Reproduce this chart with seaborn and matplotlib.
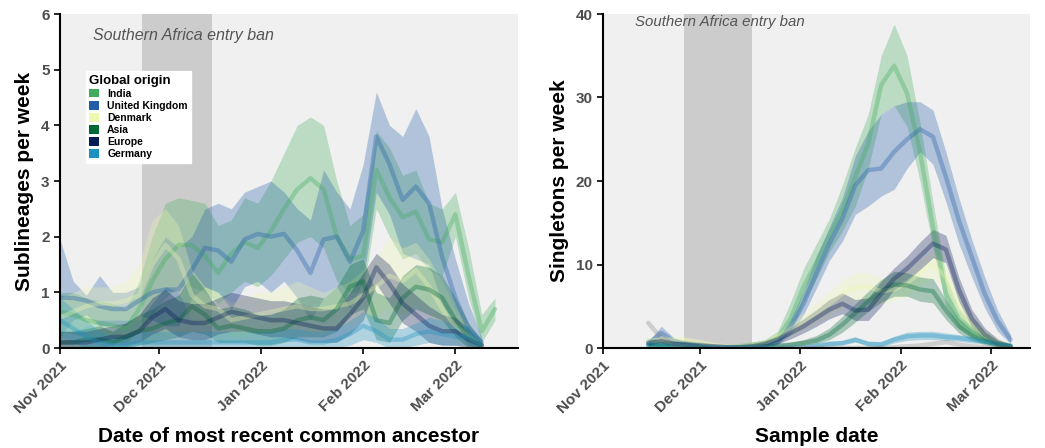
import numpy as np
import pandas as pd
import matplotlib
matplotlib.use("Agg")
import matplotlib.pyplot as plt
import matplotlib.dates as mdates
from matplotlib.patches import Patch
import seaborn as sns

nan = np.nan
origins = ["India", "United Kingdom", "Denmark", "Asia", "Europe", "Germany"]
colors = ["#41ab5d", "#225ea8", "#edf8b1", "#006837", "#081d58", "#1d91c0"]

# ---- Left panel: sublineages per week (dates every 4 days from 2021-11-01)
left_start, left_n = "2021-11-01", 34
india_l = [0.65,0.6,0.5,0.45,0.4,0.35,0.7,1.2,1.6,1.85,1.85,1.65,1.35,1.7,1.9,1.8,2.1,2.5,2.85,3.05,2.85,2.0,1.6,1.65,3.2,2.7,2.35,2.45,1.95,1.9,2.4,1.3,0.3,0.7]
india_l_hi = [1.0,1.0,0.9,0.85,0.8,0.7,1.2,2.0,2.6,2.7,2.65,2.6,2.2,2.3,2.7,2.6,3.0,3.5,4.0,4.15,4.0,3.0,2.2,2.4,3.9,3.6,3.1,3.2,2.6,2.5,2.8,1.8,0.6,0.9]
india_l_lo = [0.3,0.25,0.2,0.15,0.1,0.1,0.3,0.6,0.9,1.1,1.1,1.0,0.8,1.0,1.2,1.1,1.3,1.6,1.9,2.0,1.8,1.2,1.0,1.0,2.5,2.0,1.6,1.7,1.4,1.3,2.0,0.9,0.1,0.5]
uk_l = [0.9,0.9,0.85,0.75,0.7,0.7,0.85,1.0,1.05,1.05,1.4,1.8,1.75,1.55,1.95,2.05,2.0,2.05,1.75,1.35,1.95,2.0,1.55,2.1,3.8,3.3,2.66,2.9,2.6,1.63,0.9,0.35,0.1,nan]
uk_l_hi = [1.95,1.2,0.95,1.3,1.0,1.0,1.1,1.6,2.0,1.8,2.0,2.5,2.6,2.5,2.8,2.9,3.0,2.8,2.5,2.3,3.2,2.8,2.5,3.3,4.6,4.0,3.8,4.3,3.8,2.5,1.6,0.8,0.2,nan]
uk_l_lo = [0.2,0.5,0.6,0.4,0.4,0.4,0.6,0.5,0.4,0.4,0.9,1.1,1.0,0.7,1.1,1.2,1.0,1.2,0.9,0.5,0.9,1.1,0.7,1.2,2.8,2.4,1.7,1.6,1.5,0.8,0.3,0.05,0.0,nan]
denmark_l = [0.55,0.65,0.75,0.8,0.8,0.85,0.95,1.5,1.85,1.6,0.95,0.75,0.7,0.5,0.55,0.6,0.65,0.7,0.75,0.7,0.7,0.75,0.8,0.95,1.1,1.3,1.2,1.4,1.1,0.7,0.4,0.2,0.05,nan]
denmark_l_hi = [0.9,1.0,1.1,1.1,1.1,1.2,1.5,2.3,2.5,2.2,1.4,1.1,1.0,0.8,0.9,1.0,1.0,1.1,1.2,1.1,1.0,1.1,1.2,1.4,1.6,2.0,1.8,1.9,1.6,1.2,0.7,0.4,0.1,nan]
denmark_l_lo = [0.2,0.3,0.4,0.5,0.5,0.5,0.5,0.8,1.1,1.0,0.5,0.4,0.4,0.2,0.2,0.3,0.3,0.3,0.4,0.3,0.3,0.4,0.4,0.5,0.6,0.7,0.6,0.8,0.6,0.3,0.1,0.0,0.0,nan]
asia_l = [0.1,0.1,0.15,0.15,0.1,0.2,0.3,0.35,0.45,0.5,0.75,0.6,0.35,0.4,0.35,0.3,0.3,0.35,0.5,0.55,0.5,0.7,1.1,1.2,0.5,0.45,0.9,1.1,1.05,0.9,0.5,0.2,0.05,nan]
asia_l_hi = [0.3,0.3,0.35,0.4,0.3,0.45,0.6,0.7,0.85,0.95,1.35,1.05,0.7,0.75,0.7,0.6,0.6,0.7,0.9,0.95,0.9,1.1,1.5,1.6,1.0,0.9,1.3,1.5,1.45,1.3,0.9,0.45,0.15,nan]
asia_l_lo = [0,0,0,0,0,0,0.05,0.1,0.15,0.2,0.3,0.25,0.1,0.1,0.1,0.05,0.05,0.1,0.2,0.2,0.2,0.3,0.6,0.7,0.15,0.1,0.5,0.7,0.6,0.5,0.2,0.0,0.0,nan]
europe_l = [0.1,0.1,0.1,0.15,0.2,0.2,0.3,0.55,0.7,0.5,0.45,0.45,0.55,0.65,0.6,0.55,0.5,0.5,0.45,0.4,0.35,0.35,0.6,0.9,1.45,1.15,0.8,0.6,0.4,0.3,0.3,0.15,0.05,nan]
europe_l_hi = [0.3,0.3,0.3,0.35,0.4,0.45,0.6,0.9,1.05,0.85,0.8,0.8,0.9,1.0,0.95,0.9,0.85,0.85,0.8,0.75,0.7,0.7,1.0,1.35,1.7,1.5,1.15,0.95,0.75,0.6,0.55,0.35,0.1,nan]
europe_l_lo = [0,0,0,0,0.05,0.05,0.1,0.25,0.35,0.2,0.15,0.15,0.25,0.3,0.3,0.25,0.2,0.2,0.15,0.1,0.1,0.1,0.25,0.5,1.15,0.8,0.45,0.3,0.1,0.05,0.05,0,0,nan]
germany_l = [0.5,0.35,0.2,0.1,0.05,0.05,0.1,0.1,0.1,0.1,0.1,0.1,0.1,0.1,0.1,0.1,0.1,0.15,0.15,0.1,0.1,0.15,0.25,0.4,0.3,0.15,0.15,0.25,0.3,0.25,0.2,0.2,0.05,nan]
germany_l_hi = [0.9,0.7,0.5,0.3,0.2,0.2,0.3,0.3,0.3,0.3,0.3,0.3,0.3,0.3,0.3,0.3,0.3,0.35,0.35,0.3,0.3,0.35,0.5,0.65,0.55,0.35,0.35,0.45,0.55,0.5,0.4,0.4,0.15,nan]
germany_l_lo = [0.2,0.1,0,0,0,0,0,0,0,0,0,0,0,0,0,0,0,0,0,0,0,0,0.05,0.15,0.1,0,0,0.05,0.1,0.05,0.05,0.05,0,nan]

# ---- Right panel: singletons per week (dates every 4 days from 2021-11-15)
right_start, right_n = "2021-11-15", 29
india_r = [0.8,0.6,0.6,0.5,0.3,0.1,0.1,0.2,0.4,0.6,1.2,3.5,7.3,10.3,13.5,16.5,20.5,24.5,31.5,33.8,30.5,23.5,14.5,6.5,3.5,2.2,1.3,0.6,0.3]
india_r_hi = [1.2,1.0,0.9,0.8,0.5,0.2,0.2,0.4,0.7,1.0,2.0,5.5,9.5,12.5,15.5,19.5,24,28,35,38.8,35,27,17.5,8.5,4.8,3.0,1.9,1.0,0.5]
india_r_lo = [0.4,0.3,0.3,0.2,0.1,0,0,0.1,0.2,0.3,0.6,2.0,5.5,8.3,11.5,14,17,21.5,28,29,26.5,20,12,5,2.4,1.4,0.8,0.3,0.1]
uk_r = [0.5,1.8,0.8,0.5,0.4,0.2,0.1,0.1,0.2,0.3,0.7,2.5,5.3,9.0,12.5,15.5,19.5,21.3,21.5,23.5,25,26.2,25.3,20.5,15.3,10.9,6.5,3.2,1.0]
uk_r_hi = [0.8,2.6,1.2,0.8,0.6,0.3,0.2,0.2,0.3,0.5,1.0,3.5,6.8,11,14.5,18,23,26,28,29,29.5,29.5,28.5,23.5,18,13,8.5,4.5,1.6]
uk_r_lo = [0.2,1.0,0.4,0.3,0.2,0.1,0,0,0.1,0.1,0.4,1.6,4,7.2,10.5,12.8,16,17,18.2,19,21.5,23.5,22,17.5,12.5,8.5,4.8,2.0,0.5]
denmark_r = [0.8,1.0,1.0,0.9,0.7,0.4,0.2,0.2,0.3,0.6,1.3,2.2,3.2,4.2,5.3,6.5,7.3,7.3,6.8,7.0,7.8,9.0,10,8.5,5,2.8,1.5,0.7,0.3]
denmark_r_hi = [1.2,1.5,1.4,1.3,1.0,0.6,0.3,0.3,0.5,0.9,1.9,3.0,4.2,5.4,6.8,8.2,9.0,9.0,8.3,8.4,9.3,10.6,11.6,10.0,6.3,3.8,2.2,1.1,0.5]
denmark_r_lo = [0.4,0.6,0.6,0.5,0.4,0.2,0.1,0.1,0.1,0.3,0.7,1.4,2.2,3.0,3.8,4.8,5.6,5.6,5.3,5.6,6.3,7.4,8.4,7.0,3.7,1.8,0.8,0.3,0.1]
asia_r = [0.3,0.2,0.2,0.1,0.1,0.05,0,0.05,0.1,0.2,0.3,0.4,0.6,0.9,1.6,2.8,4.2,5.6,6.8,7.6,7.5,7.0,6.8,4.5,2.6,1.5,0.8,0.4,0.2]
asia_r_hi = [0.6,0.5,0.4,0.3,0.2,0.1,0.1,0.1,0.2,0.4,0.5,0.7,1.0,1.5,2.4,3.8,5.3,6.8,8.2,9.2,9.0,8.5,8.3,5.8,3.5,2.2,1.3,0.7,0.4]
asia_r_lo = [0.1,0,0,0,0,0,0,0,0,0.05,0.1,0.2,0.3,0.5,1.0,1.9,3.1,4.4,5.5,6.2,6.2,5.6,5.4,3.4,1.8,0.9,0.4,0.1,0.05]
europe_r = [0.6,0.8,0.5,0.4,0.3,0.2,0.1,0.1,0.2,0.5,1.0,1.8,2.6,3.6,4.6,5.3,4.5,4.6,6.5,8.3,9.5,11,12.5,11.8,7,3.5,1.6,0.6,0.2]
europe_r_hi = [0.9,1.2,0.8,0.6,0.4,0.3,0.2,0.2,0.4,0.8,1.5,2.5,3.5,4.6,5.8,6.6,5.8,6.0,8.0,9.6,11,12.7,14.2,13.5,8.5,4.6,2.4,1.1,0.4]
europe_r_lo = [0.3,0.4,0.3,0.2,0.1,0.1,0,0,0.05,0.2,0.5,1.1,1.8,2.6,3.5,4.1,3.3,3.3,5.0,7.0,8.0,9.4,10.8,10.2,5.6,2.5,0.9,0.2,0.05]
germany_r = [0.4,0.3,0.3,0.2,0.1,0.05,0.05,0.05,0.05,0.05,0.05,0.05,0.1,0.3,0.5,0.6,1.0,0.5,0.4,1.0,1.4,1.5,1.5,1.3,1.2,1.0,0.8,0.5,0.3]
germany_r_hi = [0.7,0.6,0.5,0.4,0.2,0.1,0.1,0.1,0.1,0.1,0.1,0.15,0.25,0.5,0.8,0.9,1.3,0.8,0.8,1.4,1.9,2.0,2.0,1.8,1.6,1.4,1.1,0.8,0.5]
germany_r_lo = [0.2,0.1,0.1,0.05,0,0,0,0,0,0,0,0,0,0.1,0.25,0.35,0.7,0.25,0.15,0.6,0.9,1.0,1.0,0.9,0.8,0.6,0.5,0.3,0.1]
other_r = [3.0,1.2,0.4,0.2,0.1,0,0,0,0,0,0,0,0,0,0,0,0,0,0,0.1,0.2,0.3,0.5,0.7,0.4,0.2,0.1,0.05,0]

ban_start, ban_end = "2021-11-26", "2021-12-17"
ban_label = "Southern Africa entry ban"


def frame(start, n, series):
    dates = pd.date_range(start, periods=n, freq="4D")
    rows = []
    for name, (m, lo, hi) in series.items():
        rows.append(pd.DataFrame({"date": dates, "origin": name, "value": m, "lo": lo, "hi": hi}))
    return pd.concat(rows, ignore_index=True)


left_df = frame(left_start, left_n, {
    "India": (india_l, india_l_lo, india_l_hi),
    "United Kingdom": (uk_l, uk_l_lo, uk_l_hi),
    "Denmark": (denmark_l, denmark_l_lo, denmark_l_hi),
    "Asia": (asia_l, asia_l_lo, asia_l_hi),
    "Europe": (europe_l, europe_l_lo, europe_l_hi),
    "Germany": (germany_l, germany_l_lo, germany_l_hi),
})
right_df = frame(right_start, right_n, {
    "India": (india_r, india_r_lo, india_r_hi),
    "United Kingdom": (uk_r, uk_r_lo, uk_r_hi),
    "Denmark": (denmark_r, denmark_r_lo, denmark_r_hi),
    "Asia": (asia_r, asia_r_lo, asia_r_hi),
    "Europe": (europe_r, europe_r_lo, europe_r_hi),
    "Germany": (germany_r, germany_r_lo, germany_r_hi),
})
other_df = pd.DataFrame({"date": pd.date_range(right_start, periods=right_n, freq="4D"), "value": other_r})

sns.set_style("ticks")
plt.rcParams["font.family"] = ["Liberation Sans", "DejaVu Sans"]
plt.rcParams["text.color"] = "black"
plt.rcParams["axes.labelcolor"] = "black"

fig = plt.figure(figsize=(10.45, 4.48), dpi=100)
axL = fig.add_axes([60/1045, 1-348/448, 458/1045, 334/448])
axR = fig.add_axes([603/1045, 1-348/448, 427/1045, 334/448])
palette = dict(zip(origins, colors))


def draw(ax, df, ylim, yticks, ylabel, xlabel, xmax, text_y, text_size):
    ax.set_facecolor("#f0f0f0")
    ax.axvspan(pd.Timestamp(ban_start), pd.Timestamp(ban_end), color="#cccccc", lw=0, zorder=0.5)
    for name in origins:
        sub = df[df.origin == name]
        ax.fill_between(sub["date"], sub["lo"], sub["hi"], color=palette[name], alpha=0.3, lw=0, zorder=1)
    sns.lineplot(data=df, x="date", y="value", hue="origin", hue_order=origins, palette=palette,
                 linewidth=3.2, alpha=0.35, legend=False, ax=ax, zorder=2)
    ax.set_xlim(pd.Timestamp("2021-11-01"), pd.Timestamp(xmax))
    ax.set_ylim(*ylim)
    ax.set_yticks(yticks)
    ax.xaxis.set_major_locator(mdates.MonthLocator())
    ax.xaxis.set_major_formatter(mdates.DateFormatter("%b %Y"))
    for lab in ax.get_xticklabels():
        lab.set_rotation(45)
        lab.set_ha("right")
        lab.set_rotation_mode("anchor")
    ax.tick_params(axis="both", labelsize=11, colors="black", labelcolor="#4d4d4d", width=1.2, length=4)
    for lab in ax.get_xticklabels() + ax.get_yticklabels():
        lab.set_fontweight("bold")
    ax.set_ylabel(ylabel, fontsize=15, fontweight="bold", labelpad=5, color="black")
    ax.set_xlabel(xlabel, fontsize=15, fontweight="bold", labelpad=8, color="black")
    for s in ["top", "right"]:
        ax.spines[s].set_visible(False)
    for s in ["left", "bottom"]:
        ax.spines[s].set_linewidth(1.5)
        ax.spines[s].set_color("black")
    ax.text(pd.Timestamp("2021-11-11"), text_y, ban_label, fontsize=text_size, style="italic",
            color="#555555", va="center", ha="left", zorder=3)


draw(axL, left_df, (0, 6), range(0, 7), "Sublineages per week", "Date of most recent common ancestor",
     "2022-03-20", 5.62, 11.5)
draw(axR, right_df, (0, 40), range(0, 41, 10), "Singletons per week", "Sample date",
     "2022-03-13", 39.0, 10.8)
sns.lineplot(data=other_df, x="date", y="value", color="#808080", linewidth=3.2, alpha=0.3, ax=axR, zorder=2)
axR.set_xlabel("Sample date", fontsize=15, fontweight="bold", labelpad=8, color="black")
axR.set_ylabel("Singletons per week", fontsize=15, fontweight="bold", labelpad=5, color="black")

handles = [Patch(facecolor=c, edgecolor="none") for c in colors]
leg = axL.legend(handles, origins, title="Global origin", loc="upper left", bbox_to_anchor=(0.045, 0.845),
                 frameon=True, fancybox=False, framealpha=1, edgecolor="white", facecolor="white",
                 handlelength=0.9, handleheight=0.9, handletextpad=0.8, labelspacing=0.2,
                 borderpad=0.35, prop={"size": 7.5, "weight": "bold"})
leg.get_title().set_fontweight("bold")
leg.get_title().set_fontsize(9.5)
leg.get_title().set_color("black")
for t in leg.get_texts():
    t.set_color("black")
leg._legend_box.align = "left"
leg.set_zorder(5)

fig.savefig("out.png", dpi=100)
